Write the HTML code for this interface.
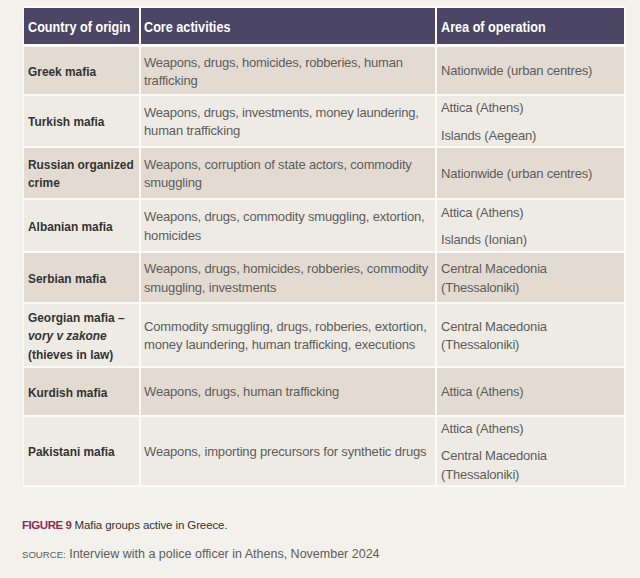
<!DOCTYPE html>
<html><head><meta charset="utf-8">
<style>
html,body{margin:0;padding:0;}
#wrap{position:absolute;left:0;top:0;width:640px;height:578px;}
body{width:640px;height:578px;background:#f3f1ec;position:relative;overflow:hidden;font-family:"Liberation Sans",sans-serif;}
.tbl{position:absolute;left:23px;top:6px;width:603px;height:481px;background:#fbfaf7;}
.c{position:absolute;display:flex;flex-direction:column;justify-content:center;box-sizing:border-box;padding-left:4px;}
.h{background:#4b4566;color:#fff;font-weight:bold;font-size:15px;letter-spacing:0;line-height:18px;}
.d{background:#e3dbd2;}
.l{background:#eeebe5;}
.c1{left:24px;width:115px;color:#333;font-weight:bold;font-size:13px;line-height:18.25px;}
.c1>div{transform:scaleX(0.915);transform-origin:0 50%;white-space:nowrap;}
.c2{left:141px;width:294px;color:#5c5c5c;font-size:13px;letter-spacing:-0.16px;line-height:18.25px;padding-left:3px;}
.c3{left:437px;width:187px;color:#5c5c5c;font-size:13px;letter-spacing:-0.19px;line-height:18.25px;}
.c3 p{margin:0;}
.c>div,.c>p{position:relative;top:1px;}
.h>div{top:1px;transform:scaleX(0.843);transform-origin:0 50%;white-space:nowrap;}
.c3 p+p{margin-top:9px;}
.cap{position:absolute;left:22px;top:518.5px;font-size:11.5px;letter-spacing:-0.1px;color:#333;white-space:nowrap;}
.cap b{color:#8c2d55;letter-spacing:-0.45px;}
.src{position:absolute;left:22px;top:547px;font-size:12.5px;color:#5c5c5c;white-space:nowrap;}
.src small{font-size:9.6px;}
.c1:not(.h)>div{top:1.4px;}
</style></head><body><div id="wrap">
<div class="tbl"></div>
<!-- header -->
<div class="c h c1" style="top:8px;height:36px;color:#fff;font-weight:bold;font-size:15px;letter-spacing:0;line-height:18px;"><div>Country of origin</div></div>
<div class="c h c2" style="top:8px;height:36px;color:#fff;font-weight:bold;font-size:15px;letter-spacing:0;line-height:18px;"><div>Core activities</div></div>
<div class="c h c3" style="top:8px;height:36px;color:#fff;font-weight:bold;font-size:15px;letter-spacing:0;line-height:18px;"><div>Area of operation</div></div>
<!-- r1 -->
<div class="c d c1" style="top:47px;height:47px;"><div>Greek mafia</div></div>
<div class="c d c2" style="top:47px;height:47px;"><div style="top:1.5px"><span style="letter-spacing:-0.23px">Weapons, drugs, homicides, robberies, human</span><br>trafficking</div></div>
<div class="c d c3" style="top:47px;height:47px;"><p>Nationwide (urban centres)</p></div>
<!-- r2 -->
<div class="c l c1" style="top:96px;height:50px;"><div>Turkish mafia</div></div>
<div class="c l c2" style="top:96px;height:50px;"><div><span style="letter-spacing:-0.23px">Weapons, drugs, investments, money laundering,</span><br>human trafficking</div></div>
<div class="c l c3" style="top:96px;height:50px;"><p>Attica (Athens)</p><p>Islands (Aegean)</p></div>
<!-- r3 -->
<div class="c d c1" style="top:148px;height:50px;"><div>Russian organized<br>crime</div></div>
<div class="c d c2" style="top:148px;height:50px;"><div>Weapons, corruption of state actors, commodity<br>smuggling</div></div>
<div class="c d c3" style="top:148px;height:50px;"><p>Nationwide (urban centres)</p></div>
<!-- r4 -->
<div class="c l c1" style="top:200px;height:51px;"><div>Albanian mafia</div></div>
<div class="c l c2" style="top:200px;height:51px;"><div>Weapons, drugs, commodity smuggling, extortion,<br>homicides</div></div>
<div class="c l c3" style="top:200px;height:51px;"><p>Attica (Athens)</p><p>Islands (Ionian)</p></div>
<!-- r5 -->
<div class="c d c1" style="top:253px;height:49px;"><div>Serbian mafia</div></div>
<div class="c d c2" style="top:253px;height:49px;"><div>Weapons, drugs, homicides, robberies, commodity<br>smuggling, investments</div></div>
<div class="c d c3" style="top:253px;height:49px;"><p>Central Macedonia<br>(Thessaloniki)</p></div>
<!-- r6 -->
<div class="c l c1" style="top:304px;height:62px;"><div>Georgian mafia –<br><i>vory v zakone</i><br>(thieves in law)</div></div>
<div class="c l c2" style="top:304px;height:62px;"><div>Commodity smuggling, drugs, robberies, extortion,<br>money laundering, human trafficking, executions</div></div>
<div class="c l c3" style="top:304px;height:62px;"><p>Central Macedonia<br>(Thessaloniki)</p></div>
<!-- r7 -->
<div class="c d c1" style="top:367.5px;height:47.5px;"><div>Kurdish mafia</div></div>
<div class="c d c2" style="top:367.5px;height:47.5px;"><div>Weapons, drugs, human trafficking</div></div>
<div class="c d c3" style="top:367.5px;height:47.5px;"><p>Attica (Athens)</p></div>
<!-- r8 -->
<div class="c l c1" style="top:417px;height:68px;"><div>Pakistani mafia</div></div>
<div class="c l c2" style="top:417px;height:68px;"><div>Weapons, importing precursors for synthetic drugs</div></div>
<div class="c l c3" style="top:417px;height:68px;"><p>Attica (Athens)</p><p>Central Macedonia<br>(Thessaloniki)</p></div>

<div class="cap"><b>FIGURE 9</b> Mafia groups active in Greece.</div>
<div class="src"><small>SOURCE:</small> Interview with a police officer in Athens, November 2024</div>
</div></body></html>
